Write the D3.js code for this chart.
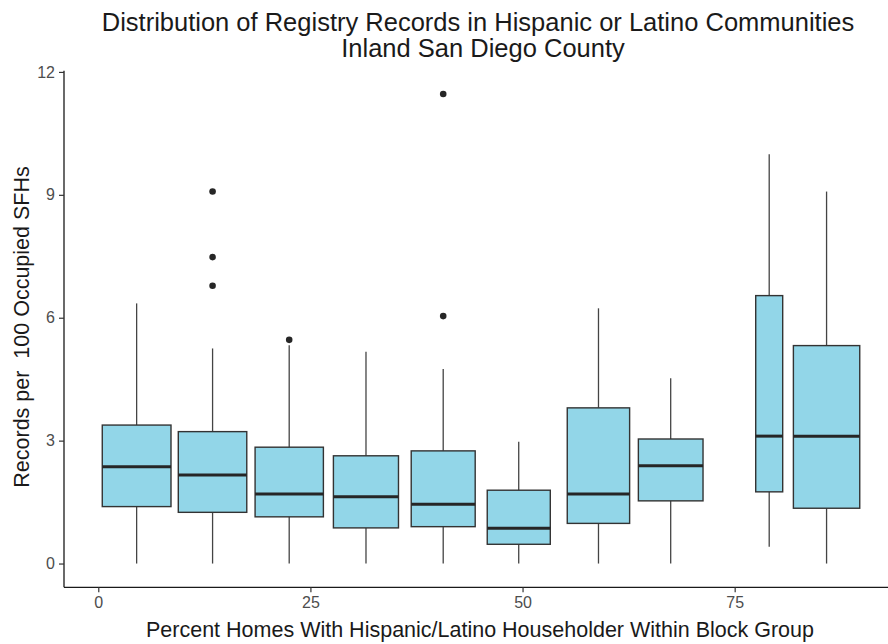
<!DOCTYPE html>
<html>
<head>
<meta charset="utf-8">
<script src="https://cdn.jsdelivr.net/npm/d3@7"></script>
<style>
  html, body { margin: 0; padding: 0; background: #fff; }
  svg { display: block; font-family: "Liberation Sans", Arial, Helvetica, sans-serif; }
</style>
</head>
<body>
<svg id="chart" width="888" height="644"></svg>
<script>
// Percent-Hispanic bins: left and right edge of each bin (percent)
const binStart = [0.47, 9.43, 18.48, 27.71, 36.88, 45.84, 55.27, 63.65, 77.48, 81.92];
const binEnd   = [8.57, 17.50, 26.53, 35.38, 44.42, 53.27, 62.62, 71.27, 80.66, 89.74];
// Centre of each bin (percent)
const binMid   = [4.52, 13.47, 22.50, 31.55, 40.65, 49.55, 58.95, 67.46, 79.07, 85.83];

// Records per 100 occupied SFHs: five-number summaries per bin
const whiskerLow  = [0, 0, 0, 0, 0, 0, 0, 0, 0.41, 0];
const quart1      = [1.39, 1.25, 1.14, 0.87, 0.90, 0.47, 0.98, 1.53, 1.75, 1.35];
const medians     = [2.36, 2.16, 1.70, 1.63, 1.45, 0.86, 1.70, 2.39, 3.11, 3.11];
const quart3      = [3.38, 3.22, 2.84, 2.63, 2.75, 1.79, 3.80, 3.04, 6.54, 5.32];
const whiskerHigh = [6.35, 5.25, 5.33, 5.17, 4.75, 2.97, 6.23, 4.52, 9.99, 9.08];
// Outlying block groups per bin
const outliers = [[], [6.78, 7.48, 9.08], [5.46], [], [6.04, 11.46], [], [], [], [], []];

const xTicks = [0, 25, 50, 75];
const yTicks = [0, 3, 6, 9, 12];

const titleLines = ["Distribution of Registry Records in Hispanic or Latino Communities",
                    "Inland San Diego County"];
const xTitle = "Percent Homes With Hispanic/Latino Householder Within Block Group";
const yTitle = "Records per  100 Occupied SFHs";

const boxes = binMid.map((m, i) => ({
  x0: binStart[i], x1: binEnd[i], mid: m,
  lo: whiskerLow[i], q1: quart1[i], med: medians[i], q3: quart3[i], hi: whiskerHigh[i],
  out: outliers[i]
}));

const svg = d3.select("#chart");
const panel = { left: 64, right: 888, top: 70.7, bottom: 587.3 };

const x = d3.scaleLinear().domain([-4.04, 93.07]).range([panel.left, panel.right]);
const y = d3.scaleLinear().domain([-0.58, 12.03]).range([panel.bottom, panel.top]);

const fill = "#92d6e8";
const ink = "#333333";

const g = svg.append("g");

// whiskers
g.selectAll("line.whisker-up").data(boxes).join("line")
  .attr("x1", d => x(d.mid)).attr("x2", d => x(d.mid))
  .attr("y1", d => y(d.q3)).attr("y2", d => y(d.hi))
  .attr("stroke", "#444").attr("stroke-width", 1.3);
g.selectAll("line.whisker-down").data(boxes).join("line")
  .attr("x1", d => x(d.mid)).attr("x2", d => x(d.mid))
  .attr("y1", d => y(d.q1)).attr("y2", d => y(d.lo))
  .attr("stroke", "#444").attr("stroke-width", 1.3);

// boxes
g.selectAll("rect.box").data(boxes).join("rect")
  .attr("x", d => x(d.x0)).attr("width", d => x(d.x1) - x(d.x0))
  .attr("y", d => y(d.q3)).attr("height", d => y(d.q1) - y(d.q3))
  .attr("fill", fill).attr("stroke", ink).attr("stroke-width", 1.4);

// medians
g.selectAll("line.median").data(boxes).join("line")
  .attr("x1", d => x(d.x0)).attr("x2", d => x(d.x1))
  .attr("y1", d => y(d.med)).attr("y2", d => y(d.med))
  .attr("stroke", "#262626").attr("stroke-width", 3);

// outlying points
const pts = boxes.flatMap(d => d.out.map(v => ({ mid: d.mid, v })));
g.selectAll("circle.outlier").data(pts).join("circle")
  .attr("cx", d => x(d.mid)).attr("cy", d => y(d.v)).attr("r", 3.3)
  .attr("fill", "#262626");

// axes
const xAxis = svg.append("g").attr("transform", `translate(0,${panel.bottom})`)
  .call(d3.axisBottom(x).tickValues(xTicks).tickSize(5).tickPadding(4));
const yAxis = svg.append("g").attr("transform", `translate(${panel.left},0)`)
  .call(d3.axisLeft(y).tickValues(yTicks).tickSize(5).tickPadding(4));

[xAxis, yAxis].forEach(a => {
  a.select(".domain").attr("stroke", "#1a1a1a").attr("stroke-width", 1.3);
  a.selectAll(".tick line").attr("stroke", ink).attr("stroke-width", 1.2);
  a.selectAll(".tick text").attr("fill", "#4d4d4d").attr("font-size", 16)
    .attr("font-family", "Liberation Sans, Arial, sans-serif");
});
// only the axis lines themselves, no outer ticks
xAxis.select(".domain").attr("d", `M${panel.left},0H${panel.right}`);
yAxis.select(".domain").attr("d", `M0,${panel.top}V${panel.bottom}`);

// titles
svg.append("text").attr("x", 478).attr("y", 30.5).attr("text-anchor", "middle")
  .attr("font-size", 25.5).attr("fill", "#1a1a1a").text(titleLines[0]);
svg.append("text").attr("x", 483).attr("y", 56.5).attr("text-anchor", "middle")
  .attr("font-size", 25.5).attr("fill", "#1a1a1a").text(titleLines[1]);

svg.append("text").attr("x", 480).attr("y", 637).attr("text-anchor", "middle")
  .attr("font-size", 21.5).attr("fill", "#1a1a1a").text(xTitle);

svg.append("text").attr("transform", "translate(29,327) rotate(-90)")
  .attr("text-anchor", "middle").attr("font-size", 21.5).attr("fill", "#1a1a1a")
  .attr("xml:space", "preserve").style("white-space", "pre").text(yTitle);
</script>
</body>
</html>
